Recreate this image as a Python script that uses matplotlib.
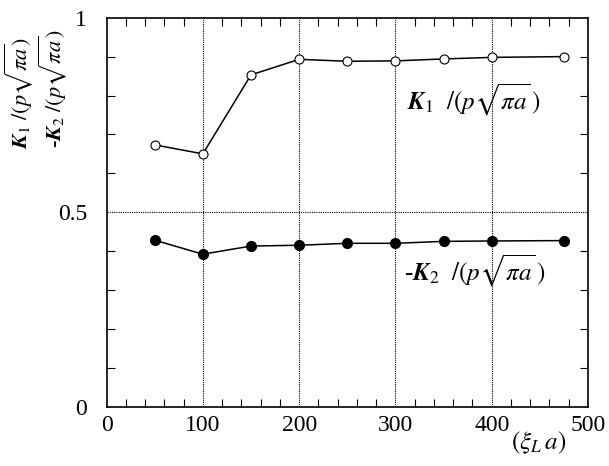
import matplotlib
matplotlib.use("Agg")
import matplotlib.pyplot as plt
from matplotlib.ticker import MultipleLocator

# --------------------------------------------------------------
# DATA
# --------------------------------------------------------------
xi_a = [50, 100, 150, 200, 250, 300, 350, 400, 475]
k1 = [0.673, 0.650, 0.853, 0.893, 0.888, 0.889, 0.894, 0.898, 0.900]
k2_neg = [0.428, 0.392, 0.413, 0.415, 0.420, 0.420, 0.425, 0.426, 0.427]

x_ticks = [0, 100, 200, 300, 400, 500]
y_ticks = [0, 0.5, 1]
y_tick_labels = ["0", "0.5", "1"]

plt.rcParams["font.family"] = "Liberation Serif"
plt.rcParams["mathtext.fontset"] = "stix"

fig = plt.figure(figsize=(6.09, 4.66), dpi=100)
ax = fig.add_axes([0.175, 0.1273, 0.7905, 0.8347])

ax.plot(xi_a, k1, color="black", lw=1.1, marker="o", ms=6.5,
        mfc="white", mec="black", mew=0.8, zorder=3)
ax.plot(xi_a, k2_neg, color="black", lw=1.1, marker="o", ms=7,
        mfc="black", mec="black", zorder=3)

ax.set_xlim(0, 500)
ax.set_ylim(0, 1)
ax.set_xticks(x_ticks)
ax.set_yticks(y_ticks)
ax.set_yticklabels(y_tick_labels)
ax.xaxis.set_minor_locator(MultipleLocator(20))
ax.yaxis.set_minor_locator(MultipleLocator(0.1))
ax.tick_params(which="both", direction="in", top=True, right=True,
               labelsize=17, width=0.8)
ax.tick_params(which="major", length=0)
ax.tick_params(which="minor", length=6)
ax.tick_params(axis="x", pad=6)
ax.tick_params(axis="y", pad=14)

# dotted grid lines
for xv in [100, 200, 300, 400]:
    ax.axvline(xv, color="black", ls=(0, (1, 1)), lw=0.8, zorder=1)
ax.axhline(0.5, color="black", ls=(0, (1, 1)), lw=0.8, zorder=1)

for s in ax.spines.values():
    s.set_linewidth(1.2)

ax.text(312, 0.79, r"$\mathbfit{K}_{\mathrm{1}}\ \ /(p\sqrt{\pi a}\,)$",
        fontsize=18, ha="left", va="center")
ax.text(309, 0.35, r"-$\mathbfit{K}_{\mathrm{2}}\ \ /(p\sqrt{\pi a}\,)$",
        fontsize=18, ha="left", va="center")

fig.text(0.03, 0.80, r"$\mathbfit{K}_{\mathrm{1}}\ /(p\sqrt{\pi a})$",
         fontsize=16, rotation=90, ha="center", va="center")
fig.text(0.086, 0.81, r"-$\mathbfit{K}_{\mathrm{2}}\ /(p\sqrt{\pi a})$",
         fontsize=16, rotation=90, ha="center", va="center")

fig.text(0.885, 0.05, r"$(\xi_{\mathit{L}}\,a)$", fontsize=18,
         ha="center", va="center")

fig.savefig("out.png", dpi=100)
